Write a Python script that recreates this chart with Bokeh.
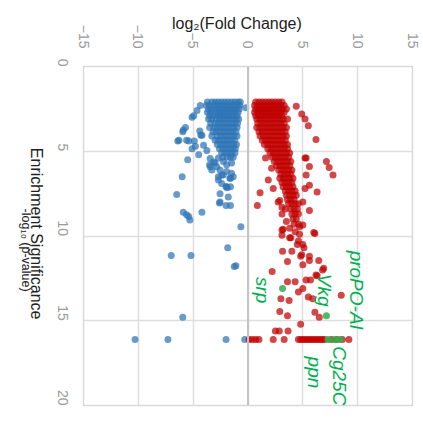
import math
from bokeh.plotting import figure
from bokeh.layouts import row
from bokeh.models import Range1d, FixedTicker, Span, ColumnDataSource
from bokeh.embed import file_html
from bokeh.resources import INLINE
from bokeh.core.properties import value

# ---------------- data ----------------
x_ticks = [-15, -10, -5, 0, 5, 10, 15]
y_ticks = [0, 5, 10, 15, 20]

# dense down-regulated block: rows of (p, [fold changes])
blue_rows = [
    (2.1, [-3.7, -3.3, -3.0, -2.7, -2.4, -2.1, -1.8, -1.5, -1.2, -0.9, -0.7]),
    (2.3, [-3.8, -3.5, -3.1, -2.8, -2.5, -2.2, -1.9, -1.6, -1.3, -1.0, -0.75]),
    (2.5, [-3.6, -3.3, -2.9, -2.6, -2.3, -2.0, -1.7, -1.4, -1.1, -0.8]),
    (2.7, [-3.7, -3.4, -3.0, -2.7, -2.4, -2.1, -1.8, -1.5, -1.2, -0.9]),
    (2.9, [-3.5, -3.2, -2.8, -2.5, -2.2, -1.9, -1.6, -1.3, -1.0]),
    (3.1, [-3.6, -3.3, -2.9, -2.6, -2.3, -2.0, -1.7, -1.4, -1.1, -0.85]),
    (3.35, [-3.4, -3.0, -2.7, -2.4, -2.1, -1.8, -1.5, -1.2, -0.95]),
    (3.6, [-3.5, -3.1, -2.8, -2.5, -2.2, -1.9, -1.6, -1.3, -1.0]),
    (3.85, [-3.2, -2.9, -2.6, -2.3, -2.0, -1.7, -1.4, -1.1]),
    (4.1, [-3.3, -2.8, -2.5, -2.2, -1.9, -1.6, -1.3, -1.0]),
    (4.35, [-3.0, -2.7, -2.4, -2.1, -1.8, -1.5, -1.2]),
    (4.6, [-2.8, -2.5, -2.2, -1.9, -1.6, -1.3, -1.05]),
    (4.85, [-2.6, -2.3, -2.0, -1.7, -1.4, -1.15]),
    (5.1, [-2.4, -2.1, -1.8, -1.5, -1.2]),
    (5.35, [-2.3, -1.9, -1.6, -1.35]),
]
blue_fc_extra = [-0.2, -4.35, -4.65, -4.95, -5.1, -5.7, -5.9, -5.95, -6.4, -5.4, -4.9, -4.8,
                 -5.1, -4.5, -4.4, -4.3, -5.5, -6.0, -6.5, -5.9, -5.6, -5.4, -5.3, -4.2,
                 -2.55, -2.6, -2.0, -1.6, -2.0, -1.9, -2.7, -2.4, -1.6, -1.6, -3.3, -3.5,
                 -3.0, -2.7, -2.25, -1.95, -1.5, -1.35, -0.65, -1.85, -7.0, -5.2, -1.25,
                 -1.1, -5.95, -10.3, -7.3, -2.0, -0.3, -6.3, -5.6, -4.05, -3.75, -4.2,
                 -3.45, -3.15, -2.85, -2.55, -3.45, -2.25, -2.7, -1.95, -1.5, -1.65,
                 -2.4, -1.95, -1.8, -2.55]
blue_p_extra = [2.43, 2.3, 2.6, 2.9, 3.0, 3.6, 3.75, 3.85, 4.4, 4.4, 4.4, 4.7,
                4.85, 5.2, 3.8, 4.05, 5.5, 6.5, 7.55, 8.6, 8.75, 8.85, 9.05, 8.6,
                7.5, 8.05, 8.2, 8.2, 7.1, 7.15, 6.7, 6.4, 6.6, 7.1, 6.1, 5.8,
                5.7, 5.4, 5.6, 5.8, 6.3, 6.5, 9.45, 10.7, 11.15, 11.15, 11.8,
                11.75, 14.8, 16.1, 16.1, 16.1, 16.1, 4.35, 4.35, 4.65, 4.95, 4.05,
                5.43, 5.63, 5.92, 6.1, 5.92, 6.4, 6.5, 6.2, 5.7, 6.6,
                6.9, 7.1, 7.7, 8.0]

# dense up-regulated block: rows of (p, [fold changes])
red_rows = [
    (2.1, [0.7, 1.0, 1.3, 1.6, 1.9, 2.2, 2.5, 2.8, 3.1]),
    (2.3, [0.6, 0.9, 1.2, 1.5, 1.8, 2.1, 2.4, 2.7, 3.0, 3.3]),
    (2.5, [0.7, 1.0, 1.3, 1.6, 1.9, 2.2, 2.5, 2.8, 3.1, 3.5]),
    (2.7, [0.6, 0.9, 1.2, 1.5, 1.8, 2.1, 2.4, 2.7, 3.0, 3.3]),
    (2.9, [0.7, 1.0, 1.3, 1.6, 1.9, 2.2, 2.5, 2.8, 3.1]),
    (3.1, [0.8, 1.1, 1.4, 1.7, 2.0, 2.3, 2.6, 2.9, 3.2, 3.6]),
    (3.35, [0.9, 1.2, 1.5, 1.8, 2.1, 2.4, 2.7, 3.0, 3.3]),
    (3.6, [0.8, 1.1, 1.4, 1.7, 2.0, 2.3, 2.6, 2.9, 3.2, 3.5]),
    (3.85, [1.0, 1.3, 1.6, 1.9, 2.2, 2.5, 2.8, 3.1, 3.4]),
    (4.1, [1.1, 1.4, 1.7, 2.0, 2.3, 2.6, 2.9, 3.2, 3.5]),
    (4.35, [1.3, 1.6, 1.9, 2.2, 2.5, 2.8, 3.1, 3.4]),
    (4.6, [1.5, 1.8, 2.1, 2.4, 2.7, 3.0, 3.3, 3.6]),
    (4.85, [1.8, 2.1, 2.4, 2.7, 3.0, 3.3, 3.6]),
    (5.1, [2.0, 2.3, 2.6, 2.9, 3.2, 3.5, 3.8]),
    (5.35, [2.2, 2.5, 2.8, 3.1, 3.4, 3.7]),
    (5.6, [2.4, 2.7, 3.0, 3.3, 3.6, 3.9]),
    (5.85, [2.6, 2.9, 3.2, 3.5, 3.8]),
    (6.1, [2.8, 3.1, 3.4, 3.7, 4.0]),
    (6.35, [3.0, 3.3, 3.6, 3.9]),
    (6.6, [2.9, 3.2, 3.5, 3.8, 4.1]),
    (6.85, [3.1, 3.4, 3.7, 4.0]),
    (7.1, [3.2, 3.5, 3.8, 4.1]),
    (7.35, [3.4, 3.7, 4.0, 4.3]),
    (7.6, [3.5, 3.8, 4.1, 4.4]),
    (7.85, [3.6, 3.9, 4.2]),
    (8.1, [3.7, 4.0, 4.3, 4.6]),
    (8.4, [3.9, 4.2, 4.5]),
    (8.7, [4.0, 4.3, 4.6]),
    (9.0, [4.1, 4.4]),
    (9.3, [4.2, 4.6]),
    (16.1, [0.1, 0.4, 0.7, 1.0, 2.3, 3.3, 4.6, 4.8, 5.0, 5.2, 5.4, 5.6, 5.8, 6.0,
            6.2, 6.4, 6.6, 6.8, 7.0, 7.6, 8.1, 8.6, 9.2]),
]
red_fc_extra = [4.4, 4.9, 5.2, 5.5, 6.2, 7.15, 7.4, 7.75, 6.3, 5.3, 5.6, 5.2, 1.1, 0.85,
                1.6, 2.15, 1.85, 2.3, 2.9, 3.1, 3.2, 6.0, 3.15, 4.9, 5.2, 5.3, 5.6,
                2.75, 3.1, 3.4, 5.0, 5.6, 3.5, 3.8, 3.1, 3.1, 4.3, 4.7, 5.0, 4.6, 5.0,
                5.1, 6.1, 3.9, 4.0, 3.6, 4.8, 5.6, 6.9, 2.2, 6.2, 8.5, 3.6, 4.3, 5.3,
                5.7, 4.6, 5.0, 5.5, 5.9, 6.8, 3.0, 3.75, 2.9, 3.6, 6.1, 6.5, 4.8, 2.5,
                2.85, 3.65, 4.5, 5.6, 6.45, 5.0, 3.8, 4.7, 6.3]
red_p_extra = [2.35, 2.8, 3.1, 3.5, 4.3, 5.6, 5.96, 6.4, 7.4, 5.4, 5.9, 7.2, 7.45, 8.2,
               5.4, 6.0, 6.7, 7.2, 7.9, 8.7, 9.6, 9.8, 10.9, 11.1, 5.4, 6.4, 7.0,
               8.0, 8.3, 8.4, 8.0, 8.5, 9.15, 9.55, 9.65, 9.95, 9.75, 9.45, 9.35, 10.3, 10.5,
               10.7, 9.85, 10.1, 10.9, 11.5, 11.2, 11.2, 11.9, 12.1, 12.3, 13.5, 12.7, 12.7, 12.6,
               12.6, 13.3, 13.1, 13.6, 13.7, 12.0, 13.7, 13.8, 14.45, 14.7, 14.5, 14.8, 15.2, 15.6,
               15.6, 15.6, 10.5, 11.45, 11.45, 11.7, 10.1, 9.9, 12.35]

green_fc = [3.15, 7.15, 7.3, 7.9, 8.4]
green_p = [13.1, 14.7, 16.1, 16.1, 16.1]

gene_names = ["proPO-AI", "Vkg", "srp", "Cg25C", "ppn"]
gene_fc = [9.9, 7.0, 1.3, 8.3, 6.1]
gene_p = [13.2, 13.2, 13.2, 18.25, 18.05]

x_title = "log₂(Fold Change)"
y_title_lines = ["Enrichment Significance", "-log₁₀ (p-value)"]

# ---------------- assemble ----------------
blue_fc, blue_p = [], []
for pv, fcs in blue_rows:
    blue_fc += fcs
    blue_p += [pv] * len(fcs)
blue_fc += blue_fc_extra
blue_p += blue_p_extra

red_fc, red_p = [], []
for pv, fcs in red_rows:
    red_fc += fcs
    red_p += [pv] * len(fcs)
red_fc += red_fc_extra
red_p += red_p_extra

FONT = "Liberation Sans"
CW = -math.pi / 2
H = 432
LW = 45  # width of the strip that carries the rotated y title

# ---- strip holding the rotated y-axis title ----
t = figure(width=LW, height=H, output_backend="svg", toolbar_location=None, title=None,
           x_range=Range1d(0, LW), y_range=Range1d(0, H),
           min_border=0, min_border_left=0, min_border_right=0,
           min_border_top=0, min_border_bottom=0)
t.axis.visible = False
t.grid.visible = False
t.outline_line_color = None
t.background_fill_color = "white"
t.border_fill_color = "white"
t.text(x=[36], y=[H - 213], text=[y_title_lines[0]], angle=CW, text_align="center",
       text_baseline="middle", text_font=value(FONT), text_font_size="16px", text_color="#222222")
t.text(x=[25], y=[H - 234], text=[y_title_lines[1]], angle=CW, text_align="center",
       text_baseline="middle", text_font=value(FONT), text_font_size="12.5px", text_color="#222222")

# ---- main plot ----
p = figure(width=423 - LW, height=H, output_backend="svg", toolbar_location=None,
           x_range=Range1d(-15, 15), y_range=Range1d(20, 0),
           x_axis_location="above", y_axis_location="left",
           min_border_left=83 - LW, min_border_top=66, min_border_right=11, min_border_bottom=27)
p.background_fill_color = "white"
p.border_fill_color = "white"
p.outline_line_color = "#d9d9d9"
p.outline_line_width = 1.5

for ax, ticks in ((p.xaxis[0], x_ticks), (p.yaxis[0], y_ticks)):
    ax.ticker = FixedTicker(ticks=ticks)
    ax.axis_line_color = None
    ax.major_tick_line_color = None
    ax.minor_tick_line_color = None
    ax.major_tick_out = 0
    ax.major_tick_in = 0
    ax.minor_tick_out = 0
    ax.minor_tick_in = 0
    ax.major_label_orientation = CW
    ax.major_label_text_font = FONT
    ax.major_label_text_font_size = "14px"
    ax.major_label_text_color = "#9a9a9a"
p.xaxis[0].major_label_standoff = 18
p.yaxis[0].major_label_standoff = 21

xax = p.xaxis[0]
xax.axis_label = x_title + "\u00a0" * 5
xax.axis_label_text_font = FONT
xax.axis_label_text_font_style = "normal"
xax.axis_label_text_color = "#222222"
xax.axis_label_text_font_size = "16px"
xax.axis_label_standoff = -10

p.xgrid.ticker = FixedTicker(ticks=x_ticks)
p.ygrid.ticker = FixedTicker(ticks=y_ticks)
p.grid.grid_line_color = "#dedede"
p.grid.grid_line_width = 1.5

p.add_layout(Span(location=0, dimension="height", line_color="#c4c4c4", line_width=2))

p.scatter(blue_fc, blue_p, size=7, fill_color="#2e75b6", fill_alpha=0.72, line_color=None)
p.scatter(red_fc, red_p, size=7, fill_color="#c00000", fill_alpha=0.72, line_color=None)
p.scatter(green_fc, green_p, size=7, fill_color="#2bb24c", fill_alpha=0.85, line_color=None)

src = ColumnDataSource(dict(x=gene_fc, y=gene_p, t=gene_names))
p.text("x", "y", text="t", source=src, angle=CW, text_align="center", text_baseline="middle",
       text_font=value(FONT), text_font_size="19px", text_font_style="italic", text_color="#00b050")

layout = row(t, p, spacing=0)
open("out.html", "w").write(file_html(layout, INLINE))
